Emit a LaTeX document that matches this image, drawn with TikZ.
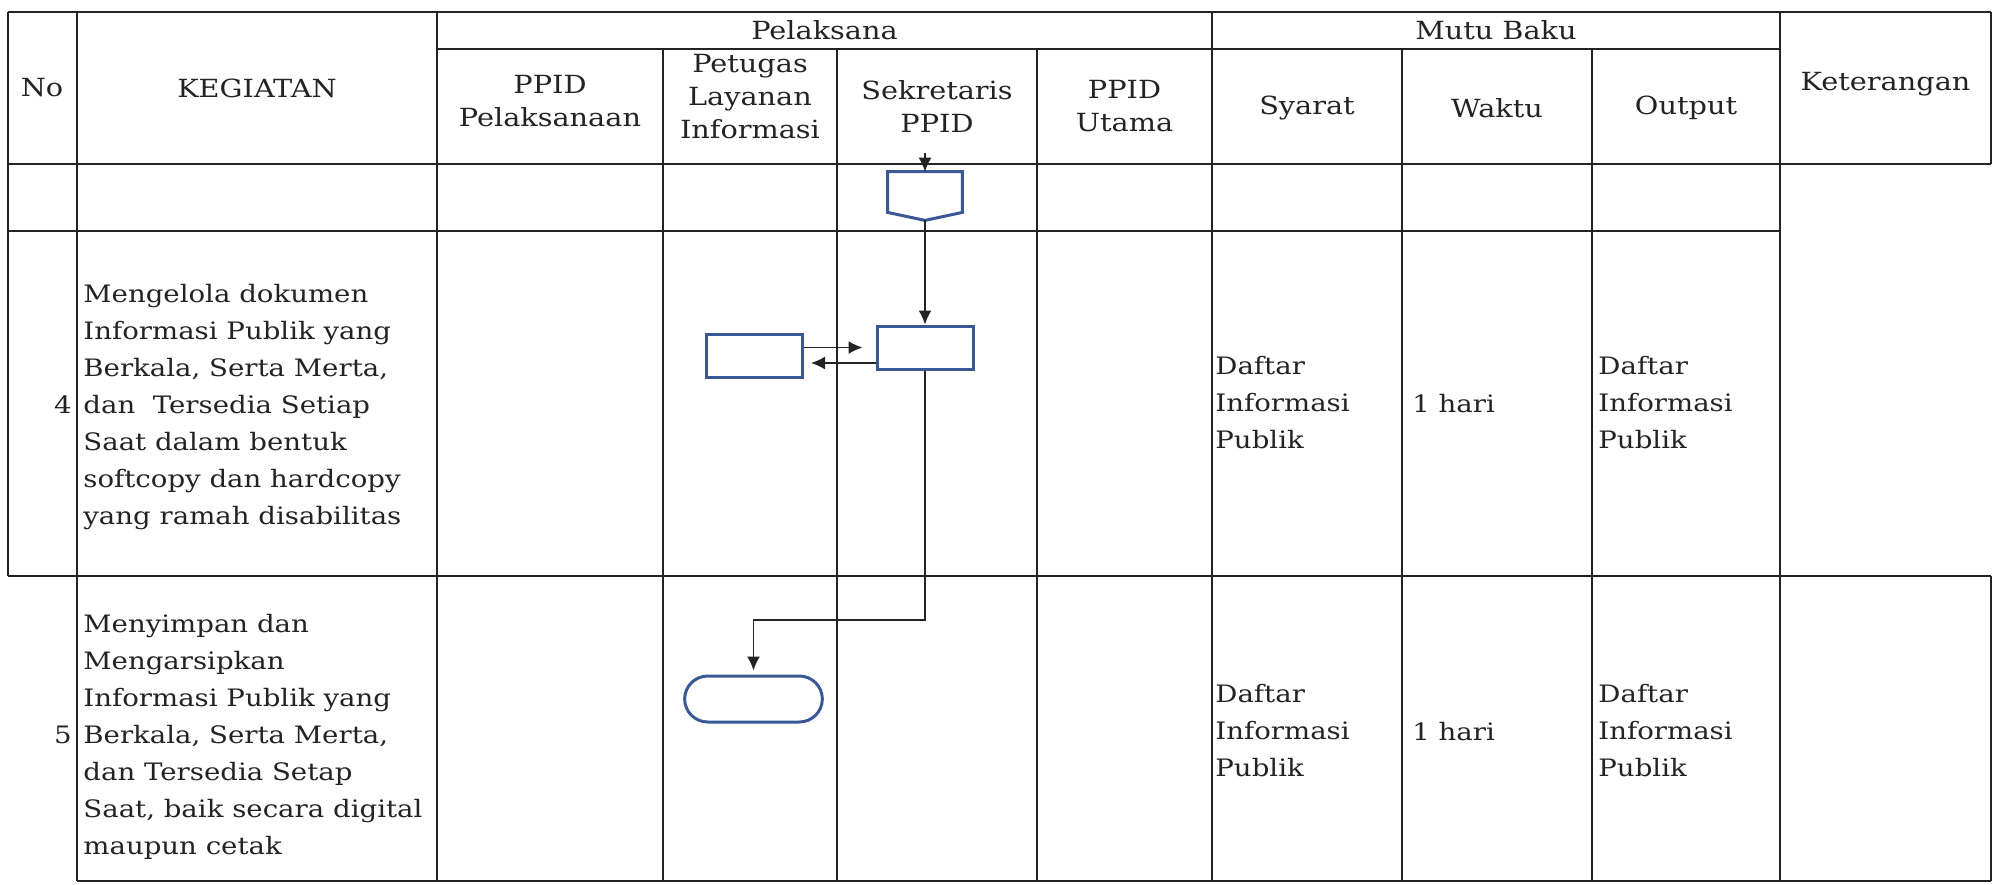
\documentclass[tikz,border=0pt]{standalone}
\usepackage{fontspec}
\setmainfont{DejaVu Serif}[FakeStretch=1.15]
\usepackage{xcolor}
\usepackage{tikz}
\usetikzlibrary{positioning,arrows.meta,shapes.misc}
\definecolor{garisbiru}{RGB}{58,88,150}
\definecolor{tinta}{RGB}{35,35,35}

\begin{document}
\begin{tikzpicture}[x=0.5pt,y=-0.5pt,>={Latex[length=7pt,width=6.5pt]},font=\fontsize{12}{18.5}\selectfont,text=tinta]
\tikzstyle{grid}=[draw=tinta,line width=1.4pt]
\tikzstyle{head}=[align=center,font=\fontsize{12.5}{16.5}\selectfont]
\tikzstyle{isi}=[align=left,anchor=west,inner xsep=0pt]
\tikzstyle{proses}=[rectangle,draw=garisbiru,line width=1.5pt,minimum width=48pt,minimum height=21.5pt]
\tikzstyle{alur}=[->,draw=tinta,line width=0.8pt]
\useasboundingbox (0,0) rectangle (1998,884);
% garis tabel
\draw[grid] (8,12) -- (1991,12);
\draw[grid] (437,49) -- (1780,49);
\draw[grid] (8,164) -- (1991,164);
\draw[grid] (8,231) -- (1780,231);
\draw[grid] (8,576) -- (1991,576);
\draw[grid] (77,881) -- (1991,881);
\draw[grid] (8,12) -- (8,576);
\draw[grid] (1991,12) -- (1991,164);
\draw[grid] (1991,576) -- (1991,881);
\foreach \x in {77,437,1212,1780} \draw[grid] (\x,12) -- (\x,881);
\foreach \x in {663,837,1037,1402,1592} \draw[grid] (\x,49) -- (\x,881);
% kepala tabel
\node[head] (no) at (42,88) {No};
\node[head] (kegiatan) at (257,88) {KEGIATAN};
\node[head] (pelaksana) at (824.5,30) {Pelaksana};
\node[head] (ppidpel) at (550,101) {PPID\\Pelaksanaan};
\node[head] (petugas) at (750,97) {Petugas\\Layanan\\Informasi};
\node[head] (sekretaris) at (937,106) {Sekretaris\\PPID};
\node[head] (ppidutama) at (1124.5,106) {PPID\\Utama};
\node[head] (mutubaku) at (1496,30) {Mutu Baku};
\node[head] (syarat) at (1307,108) {Syarat};
\node[head] (waktu) at (1497,108) {Waktu};
\node[head] (output) at (1686,108) {Output};
\node[head] (ket) at (1885.5,84) {Keterangan};
% baris 4
\node[anchor=base east,inner xsep=0pt] (no4) at (72,413) {4};
\node[isi] (keg4) at (83,407) {Mengelola dokumen\\Informasi Publik yang\\Berkala, Serta Merta,\\dan\ \ Tersedia Setiap\\Saat dalam bentuk\\softcopy dan hardcopy\\yang ramah disabilitas};
\node[isi] (syarat4) at (1215,403) {Daftar\\Informasi\\Publik};
\node[isi,anchor=base west] (waktu4) at (1412,412) {1 hari};
\node[isi] (output4) at (1598,403) {Daftar\\Informasi\\Publik};
% baris 5
\node[anchor=base east,inner xsep=0pt] (no5) at (72,743) {5};
\node[isi] (keg5) at (83,737) {Menyimpan dan\\Mengarsipkan\\Informasi Publik yang\\Berkala, Serta Merta,\\dan Tersedia Setap\\Saat, baik secara digital\\maupun cetak};
\node[isi] (syarat5) at (1215,731) {Daftar\\Informasi\\Publik};
\node[isi,anchor=base west] (waktu5) at (1412,740) {1 hari};
\node[isi] (output5) at (1598,731) {Daftar\\Informasi\\Publik};
% bagan alir
\node[inner sep=0pt,minimum width=37pt,minimum height=24pt] (konektor) at (925,196) {};
\draw[garisbiru,line width=1.5pt] (konektor.north west) -- (konektor.north east) -- ([yshift=4pt]konektor.south east) -- (konektor.south) -- ([yshift=4pt]konektor.south west) -- cycle;
\node[proses] (sekbox) at (925,347.5) {};
\node[proses] (petbox) at (754.5,355.5) {};
\node[rounded rectangle,draw=garisbiru,line width=1.5pt,minimum width=75.5pt,minimum height=23pt] (arsip) at (753.5,699) {};
\coordinate (masuk) at (925,153);
\coordinate (belok) at (925,620);
\draw[alur] (masuk) -- (konektor.north);
\draw[alur] (konektor.south) -- (sekbox.north);
\draw[alur,shorten >=6.5pt] (petbox.east |- sekbox.west) -- (sekbox.west);
\draw[alur,shorten >=3.5pt] ([yshift=-7.75pt]sekbox.west) -- ([yshift=-7.75pt]sekbox.west -| petbox.east);
\draw[alur,shorten >=2pt] (sekbox.south) -- (belok) -| (arsip.north);
\end{tikzpicture}
\end{document}
